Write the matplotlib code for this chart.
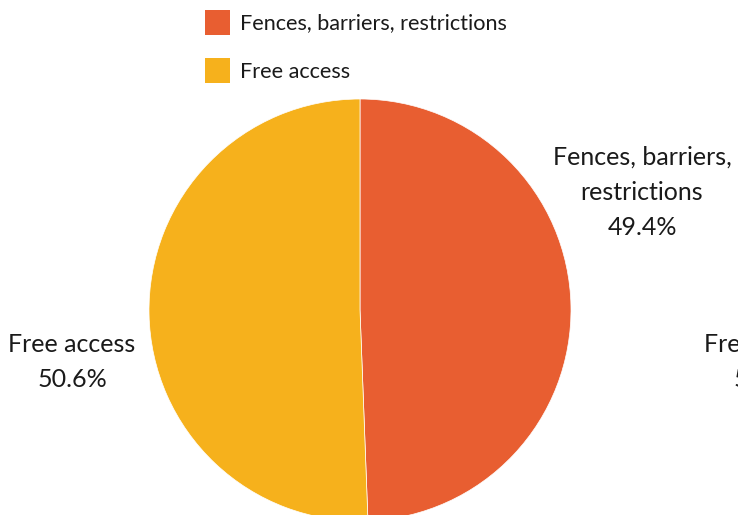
import matplotlib
matplotlib.use("Agg")
import matplotlib.pyplot as plt
from matplotlib.patches import Rectangle

categories = ["Fences, barriers, restrictions", "Free access"]
values = [49.4, 50.6]
colors = ["#E85E31", "#F6B11C"]
slice_labels = ["Fences, barriers,\nrestrictions\n49.4%", "Free access\n50.6%"]

plt.rcParams['font.family'] = ['Lato', 'DejaVu Sans']

W, H = 738, 515
fig = plt.figure(figsize=(W / 100, H / 100), dpi=100)
ax = fig.add_axes([0, 0, 1, 1])

cx, cy, r = 360, H - 310, 211
ax.pie(values, colors=colors, startangle=90, counterclock=False,
       center=(cx, cy), radius=r, frame=True,
       wedgeprops=dict(edgecolor='white', linewidth=0.5))
ax.set_xlim(0, W)
ax.set_ylim(0, H)
ax.set_aspect('equal')
ax.axis('off')

lab_fs = 18
ls = 1.64
ax.text(642, H - 192, slice_labels[0], ha='center', va='center',
        fontsize=lab_fs, color='#1a1a1a', linespacing=ls)
ax.text(72, H - 362, slice_labels[1], ha='center', va='center',
        fontsize=lab_fs, color='#1a1a1a', linespacing=ls)
# second (cropped) chart's label at the right edge
ax.text(768, H - 362, slice_labels[1], ha='center', va='center',
        fontsize=lab_fs, color='#1a1a1a', linespacing=ls)

# legend
leg_fs = 15.6
for i, (cat, col) in enumerate(zip(categories, colors)):
    y0 = H - 10 - 48 * i
    ax.add_patch(Rectangle((205, y0 - 25), 25, 25, facecolor=col, edgecolor='none'))
    ax.text(240, y0 - 13.5, cat, ha='left', va='center', fontsize=leg_fs, color='#1a1a1a')

fig.savefig("out.png", dpi=100, facecolor='white')
